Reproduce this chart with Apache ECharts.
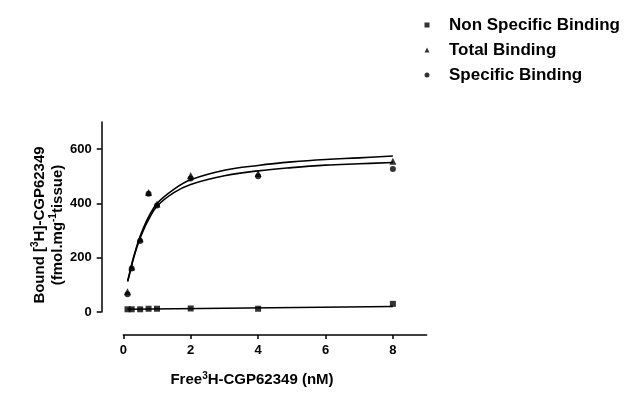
<!DOCTYPE html>
<html>
<head>
<meta charset="utf-8">
<script src="https://cdn.jsdelivr.net/npm/echarts@6/dist/echarts.min.js"></script>
<style>
html, body { margin: 0; padding: 0; background: #fff; }
#binding-chart { width: 625px; height: 393px; }
</style>
</head>
<body>
<div id="binding-chart"></div>
<script>
var FONT = '"Liberation Sans", Arial, sans-serif';

// free ligand concentration (nM)
var concX = [0.125, 0.25, 0.5, 0.75, 1, 2, 4, 8];
var nonSpecificY = [10, 10, 10, 12, 12, 13, 12, 30];
var totalY = [75, 166, 270, 440, 398, 503, 510, 555];
var specificY = [65, 160, 262, 436, 392, 492, 500, 527];

// fitted curves
var fitX = [0.13, 0.2, 0.3, 0.45, 0.6, 0.75, 1, 1.5, 2, 3, 4, 5, 6, 7, 8];
var totalFitY = [115, 150, 200, 262, 310, 350, 400, 452, 487, 522, 540, 553, 562, 568, 575];
var specificFitY = [112, 147, 196, 256, 302, 340, 390, 440, 470, 502, 520, 532, 541, 546, 551];
var nonSpecificFitX = [0.125, 8];
var nonSpecificFitY = [10, 20];

var xTicks = [0, 2, 4, 6, 8];
var yTicks = [0, 200, 400, 600];

function pairs(xs, ys) {
	var out = [];
	for (var i = 0; i < xs.length; i++) {
		out.push([xs[i], ys[i]]);
	}
	return out;
}

function bindingChart() {
	var chart = echarts.init(document.getElementById('binding-chart'));

	var supRich = {
		b: { fontFamily: FONT, fontWeight: 'bold', fontSize: 15, lineHeight: 18, color: '#000' },
		s: { fontFamily: FONT, fontWeight: 'bold', fontSize: 10, lineHeight: 10, verticalAlign: 'top', color: '#000' }
	};

	var option = {
		animation: false,
		backgroundColor: '#fff',
		grid: {
			left: 123.3,
			right: 198.4,
			top: 122,
			bottom: 81,
			containLabel: false
		},
		legend: {
			orient: 'vertical',
			left: 419.5,
			top: 11,
			itemWidth: 5,
			itemHeight: 5,
			itemGap: 7,
			data: ['Non Specific Binding', 'Total Binding', 'Specific Binding'],
			textStyle: {
				fontFamily: FONT,
				fontWeight: 'bold',
				fontSize: 17,
				lineHeight: 18,
				color: '#000',
				padding: [0, 0, 0, 14.5]
			}
		},
		xAxis: {
			type: 'value',
			min: 0,
			max: 9,
			offset: 23,
			splitLine: { show: false },
			axisLine: { show: true, onZero: false, lineStyle: { color: '#000', width: 1.5 } },
			axisTick: { show: true, length: 4, customValues: xTicks, lineStyle: { color: '#000', width: 1.5 } },
			axisLabel: {
				customValues: xTicks,
				margin: 9,
				fontFamily: FONT,
				fontWeight: 'bold',
				fontSize: 13,
				color: '#000'
			}
		},
		yAxis: {
			type: 'value',
			min: 0,
			max: 700,
			offset: 21.6,
			splitLine: { show: false },
			axisLine: { show: true, onZero: false, lineStyle: { color: '#000', width: 1.5 } },
			axisTick: { show: true, length: 5, customValues: yTicks, lineStyle: { color: '#000', width: 1.5 } },
			axisLabel: {
				customValues: yTicks,
				margin: 10,
				fontFamily: FONT,
				fontWeight: 'bold',
				fontSize: 13,
				color: '#000'
			}
		},
		graphic: [
			{
				type: 'text',
				x: 252,
				y: 380,
				style: {
					text: '{b|Free}{s|3}{b|H-CGP62349 (nM)}',
					rich: supRich,
					align: 'center',
					verticalAlign: 'middle'
				}
			},
			{
				type: 'text',
				x: 48.5,
				y: 225,
				rotation: Math.PI / 2,
				style: {
					text: '{b|Bound [}{s|3}{b|H]-CGP62349}\n{b|(fmol.mg}{s|-1}{b|tissue)}',
					rich: supRich,
					align: 'center',
					verticalAlign: 'middle'
				}
			}
		],
		series: [
			{
				name: 'Non Specific Binding',
				type: 'scatter',
				symbol: 'rect',
				symbolSize: 6,
				itemStyle: { color: '#000' },
				data: pairs(concX, nonSpecificY),
				z: 5
			},
			{
				name: 'Total Binding',
				type: 'scatter',
				symbol: 'triangle',
				symbolSize: 7,
				itemStyle: { color: '#000' },
				data: pairs(concX, totalY),
				z: 5
			},
			{
				name: 'Specific Binding',
				type: 'scatter',
				symbol: 'circle',
				symbolSize: 6,
				itemStyle: { color: '#000' },
				data: pairs(concX, specificY),
				z: 5
			},
			{
				name: 'total fit',
				type: 'line',
				smooth: 0.4,
				showSymbol: false,
				silent: true,
				lineStyle: { color: '#000', width: 1.6 },
				data: pairs(fitX, totalFitY)
			},
			{
				name: 'specific fit',
				type: 'line',
				smooth: 0.4,
				showSymbol: false,
				silent: true,
				lineStyle: { color: '#000', width: 1.6 },
				data: pairs(fitX, specificFitY)
			},
			{
				name: 'non specific fit',
				type: 'line',
				showSymbol: false,
				silent: true,
				lineStyle: { color: '#000', width: 1.6 },
				data: pairs(nonSpecificFitX, nonSpecificFitY)
			}
		]
	};

	chart.setOption(option);
}

bindingChart();
</script>
</body>
</html>
